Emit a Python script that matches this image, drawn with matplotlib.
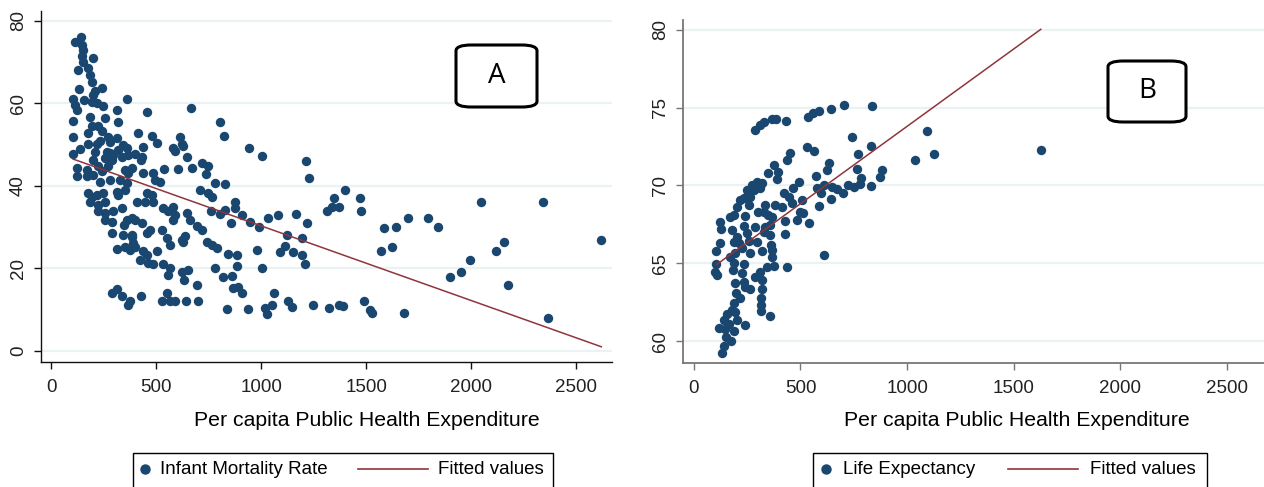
import matplotlib
matplotlib.use("Agg")
import matplotlib.pyplot as plt
from matplotlib.lines import Line2D
from matplotlib.patches import FancyBboxPatch, Rectangle

# Panel A: infant mortality rate vs per capita public health expenditure
imr_x = [114, 143, 146, 154, 146, 154, 201, 130, 178, 186, 194, 133, 209, 241, 201, 102, 159, 114,
         122, 194, 217, 249, 360, 313, 455, 666, 102, 186, 257, 321, 194, 225, 241, 178, 106, 273,
         313, 413, 479, 503, 614, 622, 630, 805, 825, 943, 178, 217, 233, 281, 344, 360, 440, 138,
         106, 209, 265, 281, 297, 321, 336, 368, 400, 428, 435, 201, 257, 289, 582, 590, 646, 720,
         749, 736, 781, 828, 122, 122, 170, 170, 201, 225, 241, 273, 233, 281, 328, 360, 352, 384,
         368, 440, 487, 495, 519, 540, 606, 670, 709, 749, 765, 876, 876, 908, 947, 178, 194, 217,
         249, 186, 225, 257, 313, 321, 352, 455, 479, 408, 447, 487, 225, 257, 297, 336, 257, 289,
         360, 384, 400, 349, 435, 535, 559, 582, 590, 582, 646, 662, 693, 717, 762, 805, 828, 857,
         289, 344, 384, 455, 471, 527, 551, 567, 622, 638, 630, 741, 765, 789, 313, 352, 376, 392,
         384, 400, 440, 455, 503, 424, 463, 487, 535, 567, 559, 622, 654, 635, 693, 781, 841, 884,
         884, 820, 860, 868, 892, 908, 289, 313, 336, 376, 368, 429, 527, 551, 567, 590, 643, 701,
         836, 936,
         1006, 992, 979, 1004, 1034, 1082, 1061, 1019, 1030, 1050, 1125, 1114, 1090, 1150, 1165,
         1127, 1146,
         1215, 1229, 1221, 1194, 1194, 1208, 1316, 1337, 1348, 1373, 1400, 1472, 1475, 1583, 1643,
         1699, 1794, 1841, 1573, 1624, 2045, 2343, 2619, 1900, 1954, 1995, 2118, 2157, 2176, 2367,
         1246, 1322, 1373, 1392, 1491, 1519, 1527, 1681]
imr_y = [75.0, 76.2, 74.2, 73.0, 71.4, 70.1, 71.1, 68.1, 68.5, 66.9, 65.3, 63.4, 63.1, 63.7, 62.1,
         61.0, 60.8, 59.6, 58.3, 60.4, 60.0, 59.4, 61.0, 58.3, 57.8, 59.0, 55.8, 56.8, 56.4, 55.6,
         54.4, 54.4, 53.2, 52.8, 51.9, 51.9, 51.5, 52.8, 52.1, 50.5, 51.8, 50.2, 49.7, 55.6, 52.1,
         49.1, 50.2, 50.2, 51.0, 50.7, 49.9, 49.1, 49.5, 48.9, 47.7, 48.3, 48.3, 47.9, 47.5, 48.7,
         47.1, 47.5, 47.8, 46.3, 47.1, 46.3, 46.7, 46.3, 49.1, 48.4, 47.1, 45.6, 44.7, 42.8, 40.6,
         40.5, 44.3, 42.3, 43.9, 42.3, 42.7, 44.7, 43.5, 44.7, 41.0, 41.4, 41.4, 40.6, 43.9, 44.3,
         43.1, 43.1, 43.1, 41.4, 41.0, 44.1, 44.0, 44.3, 39.0, 38.2, 37.4, 36.2, 34.6, 33.0, 31.3,
         38.2, 37.4, 37.8, 38.2, 36.2, 35.4, 36.2, 38.6, 37.8, 39.0, 38.2, 37.8, 36.0, 36.0, 36.0,
         33.8, 33.4, 33.8, 34.6, 31.7, 31.3, 31.7, 32.2, 31.7, 30.5, 31.1, 34.6, 33.8, 35.0, 33.0,
         31.7, 33.4, 31.7, 30.3, 29.3, 34.0, 33.2, 34.2, 31.1, 28.5, 28.1, 28.1, 28.5, 29.3, 29.2,
         27.3, 25.7, 26.9, 27.9, 26.3, 26.3, 25.7, 24.9, 24.6, 25.1, 24.5, 26.1, 27.7, 25.3, 24.1,
         23.3, 24.1, 22.1, 21.3, 21.1, 21.1, 20.0, 18.4, 19.2, 19.6, 17.2, 16.0, 20.0, 23.4, 23.3,
         20.6, 18.0, 18.2, 15.3, 15.6, 14.0, 14.0, 15.0, 13.2, 12.0, 11.2, 13.4, 12.0, 14.0, 12.0,
         12.0, 12.0, 12.0, 10.1, 10.1,
         47.3, 30.0, 24.5, 20.0, 32.1, 32.9, 14.0, 10.4, 9.0, 11.1, 28.2, 25.5, 24.0, 24.0, 33.1,
         12.2, 10.6,
         46.1, 42.0, 30.9, 27.3, 23.3, 21.0, 34.0, 35.0, 37.0, 35.0, 39.0, 37.0, 33.9, 29.9, 30.1,
         32.1, 32.1, 30.1, 24.1, 25.1, 36.0, 36.0, 26.9, 18.0, 19.1, 22.1, 24.2, 26.5, 16.0, 8.0,
         11.0, 10.4, 11.0, 10.8, 12.1, 9.9, 9.1, 9.1]
imr_fit_x = [105, 2620]
imr_fit_y = [46.5, 1.0]

# Panel B: life expectancy vs per capita public health expenditure
le_x = [285, 308, 330, 366, 386, 430, 533, 561, 585, 643, 705, 835,
        743, 830, 530, 564, 452, 436, 374, 393, 350, 389, 768, 635, 624, 765, 574, 491, 464, 577,
        611, 647, 671, 699, 725, 749, 783, 780, 830, 874, 882, 643, 596, 585, 507, 444, 421, 460,
        413, 382, 335, 330, 499, 514, 483, 538, 428, 428, 608, 436, 311, 280, 264, 233, 257, 296,
        319, 272, 249, 218, 202, 186, 171, 241, 303, 350, 366, 124, 127, 178, 233, 288, 335, 358,
        358, 327, 249, 202, 186, 124, 210, 257, 296, 225, 264, 319, 361, 366, 105, 194, 171, 366,
        105, 186, 233, 343, 377, 311, 288, 319, 100, 108, 183, 225, 194, 233, 241, 261, 319, 199,
        218, 186, 314, 316, 316, 358, 178, 155, 194, 139, 202, 163, 116, 147, 186, 241, 152, 174,
        143, 132,
        1093, 1035, 1124, 1627]
le_y = [73.56, 73.88, 74.1, 74.27, 74.29, 74.16, 74.4, 74.63, 74.8, 74.93, 75.19, 75.1,
        73.13, 72.55, 72.49, 72.19, 72.06, 71.63, 71.31, 70.88, 70.78, 70.39, 72.0, 71.42, 70.99,
        71.03, 70.6, 70.24, 69.81, 69.81, 70.03, 69.92, 69.75, 69.53, 70.03, 69.92, 70.45, 70.07,
        69.96, 70.52, 70.99, 69.1, 69.49, 68.68, 69.06, 69.28, 69.49, 68.85, 68.63, 68.74, 68.74,
        68.31, 68.31, 68.2, 67.78, 67.6, 67.73, 66.88, 65.53, 64.74, 69.81, 69.7, 69.28, 69.17,
        68.74, 70.24, 70.13, 70.03, 69.7, 69.06, 68.63, 68.1, 67.99, 68.03, 68.31, 68.1, 67.99,
        67.67, 67.18, 67.13, 67.39, 67.35, 67.35, 67.46, 66.81, 67.03, 66.92, 66.71, 66.38, 66.28,
        66.28, 66.45, 66.38, 65.96, 65.63, 65.81, 66.17, 65.85, 65.81, 65.63, 65.42, 65.42, 64.98,
        65.03, 64.95, 64.78, 64.82, 64.46, 64.13, 63.92, 64.46, 64.24, 64.56, 64.35, 63.71, 63.81,
        63.49, 63.32, 63.32, 63.06, 62.74, 62.46, 62.74, 62.31, 61.95, 61.63, 61.99, 61.74, 61.89,
        61.35, 61.35, 61.09, 60.81, 60.75, 60.66, 61.03, 60.28, 60.02, 59.68, 59.21,
        73.5, 71.62, 72.0, 72.28]
le_fit_x = [108, 1627]
le_fit_y = [64.93, 80.03]

x_ticks = [0, 500, 1000, 1500, 2000, 2500]
imr_ticks = [0, 20, 40, 60, 80]
le_ticks = [60, 65, 70, 75, 80]
x_label = "Per capita Public Health Expenditure"

NAVY = "#1a476f"
MAROON = "#90353b"
GRID = "#eaf2f3"
W, H = 1264, 487

plt.rcParams["font.family"] = ["Liberation Sans", "DejaVu Sans"]
fig = plt.figure(figsize=(W / 100, H / 100), dpi=100)


def fx(px):
    return px / W


def fy(py):
    return 1 - py / H


def style(ax, spine_color, spine_lw):
    for side in ("top", "right"):
        ax.spines[side].set_visible(False)
    for side in ("left", "bottom"):
        ax.spines[side].set_color(spine_color)
        ax.spines[side].set_linewidth(spine_lw)
    ax.tick_params(axis="both", direction="out", length=5, width=1,
                   color=spine_color, labelcolor="#222222", labelsize=13.5)
    ax.tick_params(axis="x", pad=7)
    ax.tick_params(axis="y", pad=5)
    ax.grid(axis="y", color=GRID, linewidth=1.6)
    ax.set_axisbelow(True)
    ax.set_xticks(x_ticks)
    plt.setp(ax.get_yticklabels(), rotation=90, va="center")


def label_box(px0, py0, px1, py1, letter):
    box = FancyBboxPatch((fx(px0), fy(py1)), fx(px1) - fx(px0), fy(py0) - fy(py1),
                         boxstyle="round,pad=0,rounding_size=0.012",
                         transform=fig.transFigure, facecolor="white",
                         edgecolor="black", linewidth=2.2, zorder=5)
    fig.add_artist(box)
    fig.text(fx((px0 + px1) / 2), fy((py0 + py1) / 2), letter, fontsize=20,
             family=["Open Sans", "DejaVu Sans"], ha="center", va="center", zorder=6)


def legend_box(px0, px1, dot_px, txt1_px, line0, line1, txt2_px, label1):
    fig.add_artist(Rectangle((fx(px0), fy(489)), fx(px1) - fx(px0), fy(453) - fy(489),
                             transform=fig.transFigure, facecolor="white",
                             edgecolor="black", linewidth=1.0))
    yc = fy(469)
    fig.add_artist(Line2D([fx(dot_px)], [yc], marker="o", markersize=6.5,
                          color=NAVY, linestyle="none", transform=fig.transFigure))
    fig.text(fx(txt1_px), yc, label1, fontsize=13.5, va="center", ha="left")
    fig.add_artist(Line2D([fx(line0), fx(line1)], [yc, yc], color=MAROON,
                          linewidth=1.2, transform=fig.transFigure))
    fig.text(fx(txt2_px), yc, "Fitted values", fontsize=13.5, va="center", ha="left")


# Panel A
axA = fig.add_axes([fx(41), fy(362), fx(612) - fx(41), fy(11) - fy(362)])
axA.scatter(imr_x, imr_y, s=46, color=NAVY, linewidths=0, zorder=3)
axA.plot(imr_fit_x, imr_fit_y, color=MAROON, linewidth=1.1, zorder=4)
axA.set_xlim(-48, 2671)
axA.set_ylim(-2.7, 82.4)
axA.set_yticks(imr_ticks)
style(axA, "#111111", 1.0)

# Panel B
axB = fig.add_axes([fx(683), fy(363), fx(1264) - fx(683), fy(20) - fy(363)])
axB.scatter(le_x, le_y, s=46, color=NAVY, linewidths=0, zorder=3)
axB.plot(le_fit_x, le_fit_y, color=MAROON, linewidth=1.1, zorder=4)
axB.set_xlim(-51, 2674)
axB.set_ylim(58.59, 80.63)
axB.set_yticks(le_ticks)
style(axB, "#777777", 1.3)

fig.text(fx(367), fy(420), x_label, fontsize=15.3, ha="center", va="center")
fig.text(fx(1017), fy(420), x_label, fontsize=15.3, ha="center", va="center")

label_box(456, 45, 537, 107, "A")
label_box(1108, 61, 1186, 122, "B")

legend_box(133, 553, 145, 160, 358, 428, 438, "Infant Mortality Rate")
legend_box(813, 1207, 826, 843, 1008, 1078, 1090, "Life Expectancy")

fig.savefig("out.png", dpi=100)
